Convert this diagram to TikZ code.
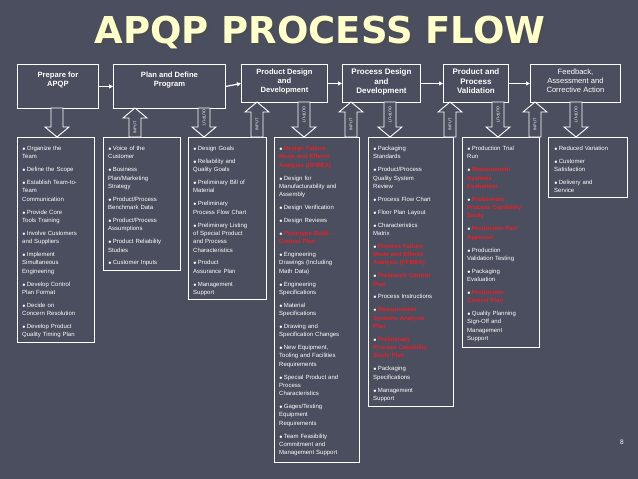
\documentclass[tikz,border=0pt]{standalone}
\usepackage{fontspec}
\setmainfont{Liberation Sans}
\newfontfamily\titlefont{DejaVu Sans}
\usetikzlibrary{arrows.meta}
\definecolor{bg}{HTML}{4B4E5E}
\definecolor{ttl}{HTML}{FFFFCC}
\definecolor{apqpred}{HTML}{E8202A}
\newcommand\bitem[1]{\par\vspace{4.6pt}{\tiny$\bullet$}\,#1}
\newcommand\ritem[1]{\par\vspace{4.6pt}{\tiny$\bullet$}\,\color{apqpred}\bfseries #1\color{white}\mdseries}
\newcommand\dnarr[4]{\draw[arrowshape] (#1-6,#2)--(#1+6,#2)--(#1+6,#3-10)--(#1+12,#3-10)--(#1,#3)--(#1-12,#3-10)--(#1-6,#3-10)--cycle;
 \node[arrlab,rotate=-90] at (#1,{(#2+#3-10)/2}) {#4};}
\newcommand\uparr[4]{\draw[arrowshape] (#1-6,#2)--(#1+6,#2)--(#1+6,#3+10)--(#1+12,#3+10)--(#1,#3)--(#1-12,#3+10)--(#1-6,#3+10)--cycle;
 \node[arrlab,rotate=90] at (#1,{(#2+#3+10)/2}) {#4};}
\begin{document}
\begin{tikzpicture}[x=1pt,y=-1pt,
  boxst/.style={draw=white,line width=0.9pt,anchor=north west,inner sep=0pt},
  headtxt/.style={text=white,align=center,font=\fontsize{7.6}{9.2}\selectfont\bfseries,anchor=north},
  bodytxt/.style={text=white,anchor=north west,inner sep=0pt,text width=82pt,align=left,font=\fontsize{6}{8.3}\selectfont},
  arrowshape/.style={draw=white,line width=0.9pt,fill=bg},
  arrlab/.style={text=white,font=\fontsize{4}{4}\selectfont,inner sep=0pt},
  conn/.style={white,line width=1.2pt,-{Triangle[length=4pt,width=4pt]}}]
\fill[bg] (0,0) rectangle (638,479);
\useasboundingbox (0,0) rectangle (638,479);
% title
\node[text=black!70,font=\titlefont\fontsize{37}{37}\selectfont\bfseries] at (322,34) {APQP PROCESS FLOW};
\node[text=ttl,font=\titlefont\fontsize{37}{37}\selectfont\bfseries] (title) at (320,32) {APQP PROCESS FLOW};
% header boxes
\node[boxst,minimum width=81,minimum height=44] (b1) at (17,64) {};
\node[boxst,minimum width=112,minimum height=44] (b2) at (113,64) {};
\node[boxst,minimum width=86,minimum height=38] (b3) at (241,64) {};
\node[boxst,minimum width=78,minimum height=38] (b4) at (342,64) {};
\node[boxst,minimum width=65,minimum height=38] (b5) at (443,64) {};
\node[boxst,minimum width=90,minimum height=38] (b6) at (530,64) {};
\node[headtxt] (h1) at ([yshift=-4]b1.north) {Prepare for\\APQP};
\node[headtxt] (h2) at ([yshift=-4]b2.north) {Plan and Define\\Program};
\node[headtxt] (h3) at ([yshift=-1.5]b3.north) {Product Design\\and\\Development};
\node[headtxt,font=\fontsize{8}{9.4}\selectfont\bfseries] (h4) at ([yshift=-1.5]b4.north) {Process Design\\and\\Development};
\node[headtxt,font=\fontsize{8}{9.4}\selectfont\bfseries] (h5) at ([yshift=-1.5]b5.north) {Product and\\Process\\Validation};
\node[headtxt,font=\fontsize{7.6}{9.2}\selectfont] (h6) at ([yshift=-1.5]b6.north) {Feedback,\\Assessment and\\Corrective Action};
\draw[conn] (b1.east) -- (b2.west);
\draw[conn] (b2.east) -- (b3.west);
\draw[conn] (b3.east) -- (b4.west);
\draw[conn] (b4.east) -- (b5.west);
\draw[conn] (b5.east) -- (b6.west);
% detail boxes
\node[boxst,minimum width=77,minimum height=205] (d1) at (17,137) {};
\node[boxst,minimum width=77,minimum height=133] (d2) at (103,137) {};
\node[boxst,minimum width=78,minimum height=162] (d3) at (188,137) {};
\node[boxst,minimum width=85,minimum height=325] (d4) at (274,137) {};
\node[boxst,minimum width=85,minimum height=269] (d5) at (368,137) {};
\node[boxst,minimum width=77,minimum height=210] (d6) at (462,137) {};
\node[boxst,minimum width=79,minimum height=60] (d7) at (548,137) {};
\node[bodytxt] (t1) at ([xshift=5,yshift=-0.5]d1.north west) {\bitem{Organize the\\Team}\bitem{Define the Scope}\bitem{Establish Team-to-\\Team\\Communication}\bitem{Provide Core\\Tools Training}\bitem{Involve Customers\\and Suppliers}\bitem{Implement\\Simultaneous\\Engineering}\bitem{Develop Control\\Plan Format}\bitem{Decide on\\Concern Resolution}\bitem{Develop Product\\Quality Timing Plan}};
\node[bodytxt] (t2) at ([xshift=5,yshift=-0.5]d2.north west) {\bitem{Voice of the\\Customer}\bitem{Business\\Plan/Marketing\\Strategy}\bitem{Product/Process\\Benchmark Data}\bitem{Product/Process\\Assumptions}\bitem{Product Reliability\\Studies}\bitem{Customer Inputs}};
\node[bodytxt] (t3) at ([xshift=5,yshift=-0.5]d3.north west) {\bitem{Design Goals}\bitem{Reliability and\\Quality Goals}\bitem{Preliminary Bill of\\Material}\bitem{Preliminary\\Process Flow Chart}\bitem{Preliminary Listing\\of Special Product\\and Process\\Characteristics}\bitem{Product\\Assurance Plan}\bitem{Management\\Support}};
\node[bodytxt] (t4) at ([xshift=5,yshift=-0.5]d4.north west) {\ritem{Design Failure\\Mode and Effects\\Analysis (DFMEA)}\bitem{Design for\\Manufacturability and\\Assembly}\bitem{Design Verification}\bitem{Design Reviews}\ritem{Prototype Build --\\Control Plan}\bitem{Engineering\\Drawings (Including\\Math Data)}\bitem{Engineering\\Specifications}\bitem{Material\\Specifications}\bitem{Drawing and\\Specification Changes}\bitem{New Equipment,\\Tooling and Facilities\\Requirements}\bitem{Special Product and\\Process\\Characteristics}\bitem{Gages/Testing\\Equipment\\Requirements}\bitem{Team Feasibility\\Commitment and\\Management Support}};
\node[bodytxt] (t5) at ([xshift=5,yshift=-0.5]d5.north west) {\bitem{Packaging\\Standards}\bitem{Product/Process\\Quality System\\Review}\bitem{Process Flow Chart}\bitem{Floor Plan Layout}\bitem{Characteristics\\Matrix}\ritem{Process Failure\\Mode and Effects\\Analysis (PFMEA)}\ritem{Prelaunch Control\\Plan}\bitem{Process Instructions}\ritem{Measurement\\Systems Analysis\\Plan}\ritem{Preliminary\\Process Capability\\Study Plan}\bitem{Packaging\\Specifications}\bitem{Management\\Support}};
\node[bodytxt] (t6) at ([xshift=5,yshift=-0.5]d6.north west) {\bitem{Production Trial\\Run}\ritem{Measurement\\Systems\\Evaluation}\ritem{Preliminary\\Process Capability\\Study}\ritem{Production Part\\Approval}\bitem{Production\\Validation Testing}\bitem{Packaging\\Evaluation}\ritem{Production\\Control Plan}\bitem{Quality Planning\\Sign-Off and\\Management\\Support}};
\node[bodytxt] (t7) at ([xshift=6,yshift=-0.5]d7.north west) {\bitem{Reduced Variation}\bitem{Customer\\Satisfaction}\bitem{Delivery and\\Service}};
% block arrows
\dnarr{57}{108}{137}{}
\uparr{135}{137}{108}{INPUT}
\dnarr{204}{108}{137}{OUTPUT}
\uparr{257}{137}{102}{INPUT}
\dnarr{304}{102}{137}{OUTPUT}
\uparr{351}{137}{102}{INPUT}
\dnarr{390}{102}{137}{OUTPUT}
\uparr{450}{137}{102}{INPUT}
\dnarr{498}{102}{137}{OUTPUT}
\uparr{535}{137}{102}{INPUT}
\dnarr{576}{102}{137}{OUTPUT}
\node[text=white,font=\fontsize{6.5}{7}\selectfont] (pg) at (622,442) {8};
\end{tikzpicture}
\end{document}
